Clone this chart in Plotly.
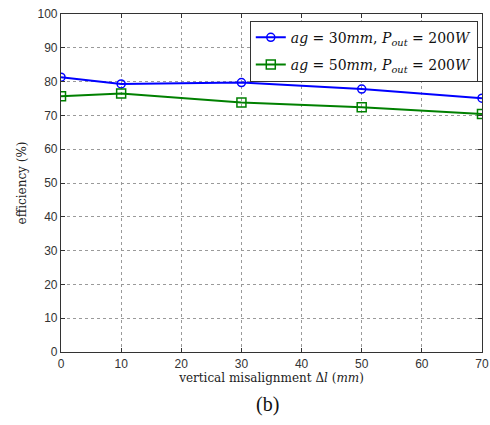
import plotly.graph_objects as go

x_vals = [0, 10, 30, 50, 70]
eff_30mm = [81.3, 79.3, 79.7, 77.8, 75.1]
eff_50mm = [75.7, 76.5, 73.8, 72.4, 70.4]
x_ticks = [0, 10, 20, 30, 40, 50, 60, 70]
y_ticks = [0, 10, 20, 30, 40, 50, 60, 70, 80, 90, 100]

fig = go.Figure()
fig.add_trace(go.Scatter(
    x=x_vals, y=eff_30mm, mode="lines+markers", legendgroup="a",
    name="<i>ag</i> = 30<i>mm</i>, <i>P</i><sub><i>out</i></sub> = 200<i>W</i>",
    line=dict(color="#0000ff", width=2),
    marker=dict(symbol="circle-open", size=8, color="#0000ff", line=dict(width=1.5)),
))
fig.add_trace(go.Scatter(
    x=x_vals, y=eff_50mm, mode="lines+markers", legendgroup="b",
    name="<i>ag</i> = 50<i>mm</i>, <i>P</i><sub><i>out</i></sub> = 200<i>W</i>",
    line=dict(color="#008000", width=2),
    marker=dict(symbol="square-open", size=9, color="#008000", line=dict(width=1.5)),
))

axis_common = dict(
    showline=True, linecolor="#333333", linewidth=1.2, mirror="allticks",
    ticks="inside", ticklen=4, tickcolor="#333333",
    showgrid=True, gridcolor="#9a9a9a", griddash="dot", gridwidth=1,
    zeroline=False, automargin=False,
    tickfont=dict(family="Liberation Sans, Arial, sans-serif", size=12, color="#333333"),
)

fig.update_xaxes(
    range=[-0.001, 70.001], tickvals=x_ticks, ticklabeloverflow="allow",
    title=dict(text="vertical misalignment Δ<i>l</i> (<i>mm</i>)",
               font=dict(family="DejaVu Serif, serif", size=12, color="#222222"), standoff=4),
    **axis_common,
)
fig.update_yaxes(
    range=[0, 100], tickvals=y_ticks,
    title=dict(text="efficiency (%)",
               font=dict(family="DejaVu Serif, serif", size=12, color="#222222"), standoff=8),
    **axis_common,
)

fig.add_annotation(
    text="(b)", xref="paper", yref="paper", x=0.49, y=-0.155,
    xanchor="center", yanchor="middle", showarrow=False,
    font=dict(family="Liberation Serif, Times New Roman, serif", size=20, color="#111111"),
)

fig.update_layout(
    width=490, height=425,
    margin=dict(l=61, r=8, t=14, b=73),
    paper_bgcolor="white", plot_bgcolor="white",
    showlegend=True,
    legend=dict(
        x=0.99, y=0.98, xanchor="right", yanchor="top",
        bgcolor="white", bordercolor="#333333", borderwidth=1,
        font=dict(family="DejaVu Serif, serif", size=14, color="#111111"),
        traceorder="grouped", tracegroupgap=6,
    ),
)

fig.write_html("out.html")
